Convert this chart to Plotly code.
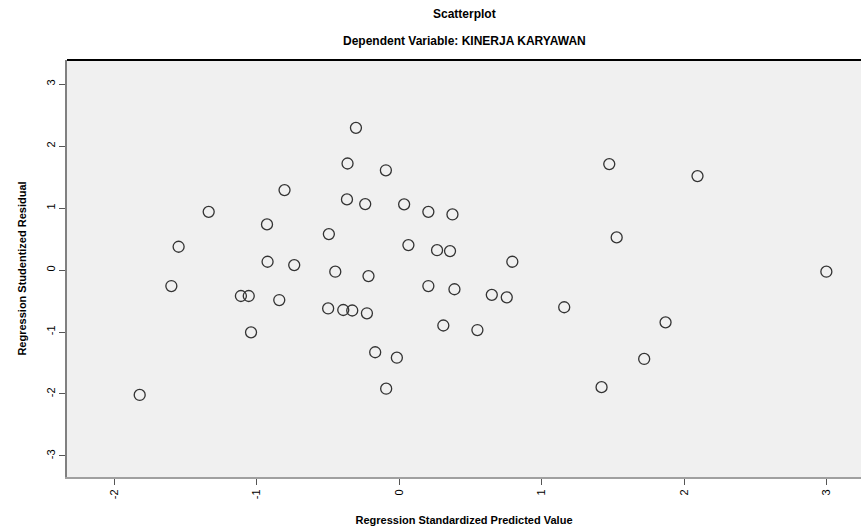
import plotly.graph_objects as go

# Regression Standardized Predicted Value
pred = [-0.303, -0.362, -0.093, -0.804, -0.366, -0.238, 0.035, 0.205, -1.336, -0.927,
        -0.493, -1.547, 0.065, 0.266, 0.357, -0.923, -0.736, -0.448, -0.215, -1.598,
        0.205, -1.110, -1.055, -0.841, -0.498, -0.392, -0.329, -0.226, -1.039, 0.310,
        -0.168, -0.016, -0.091, -1.820, 1.474, 2.093, 0.374, 1.526, 0.794, 2.997,
        0.388, 0.650, 0.755, 1.158, 1.869, 0.549, 1.719, 1.420]
# Regression Studentized Residual
resid = [2.295, 1.720, 1.610, 1.290, 1.140, 1.065, 1.060, 0.940, 0.940, 0.737,
         0.580, 0.376, 0.403, 0.320, 0.306, 0.134, 0.080, -0.027, -0.097, -0.258,
         -0.258, -0.419, -0.419, -0.484, -0.620, -0.645, -0.653, -0.698, -1.005, -0.895,
         -1.327, -1.415, -1.915, -2.016, 1.710, 1.516, 0.897, 0.527, 0.134, -0.027,
         -0.310, -0.400, -0.440, -0.600, -0.844, -0.968, -1.435, -1.890]

x_ticks = [-2, -1, 0, 1, 2, 3]
y_ticks = [-3, -2, -1, 0, 1, 2, 3]

fig = go.Figure(go.Scatter(
    x=pred, y=resid, mode="markers",
    marker=dict(symbol="circle-open", size=11, color="#333333", line=dict(width=1.3)),
    showlegend=False,
))

fig.update_layout(
    width=861, height=529,
    margin=dict(l=67, r=0, t=60, b=52),
    paper_bgcolor="white",
    plot_bgcolor="#f0f0f0",
    font=dict(family="Arial, Liberation Sans, sans-serif", color="black", size=10),
    annotations=[
        dict(text="<b>Scatterplot</b>", x=0.5, y=1, xref="paper", yref="paper",
             yshift=55, showarrow=False, font=dict(size=12)),
        dict(text="<b>Dependent Variable: KINERJA KARYAWAN</b>", x=0.5, y=1, xref="paper",
             yref="paper", yshift=28, showarrow=False, font=dict(size=12)),
    ],
    shapes=[dict(type="line", xref="paper", yref="paper", x0=0, x1=1, y0=1, y1=1,
                 line=dict(color="black", width=2))],
)
fig.update_xaxes(
    range=[-2.33, 3.24], tickvals=x_ticks, ticktext=[str(v) for v in x_ticks],
    tickangle=-90, ticks="outside", ticklen=6, tickcolor="#555555", showgrid=False, zeroline=False,
    showline=True, linecolor="#a0a0a0", linewidth=2, automargin=False,
    tickfont=dict(size=11),
    title=dict(text="<b>Regression Standardized Predicted Value</b>", font=dict(size=11), standoff=18),
)
fig.update_yaxes(
    range=[-3.34, 3.39], tickvals=y_ticks, ticktext=[str(v) for v in y_ticks],
    tickangle=-90, ticks="outside", ticklen=6, tickcolor="#555555", showgrid=False, zeroline=False,
    showline=True, linecolor="#808080", linewidth=2, automargin=False,
    tickfont=dict(size=11),
    title=dict(text="<b>Regression Studentized Residual</b>", font=dict(size=11), standoff=16),
)

fig.write_html("out.html", config={"displayModeBar": False},
               post_script="document.body.style.margin='0';")
